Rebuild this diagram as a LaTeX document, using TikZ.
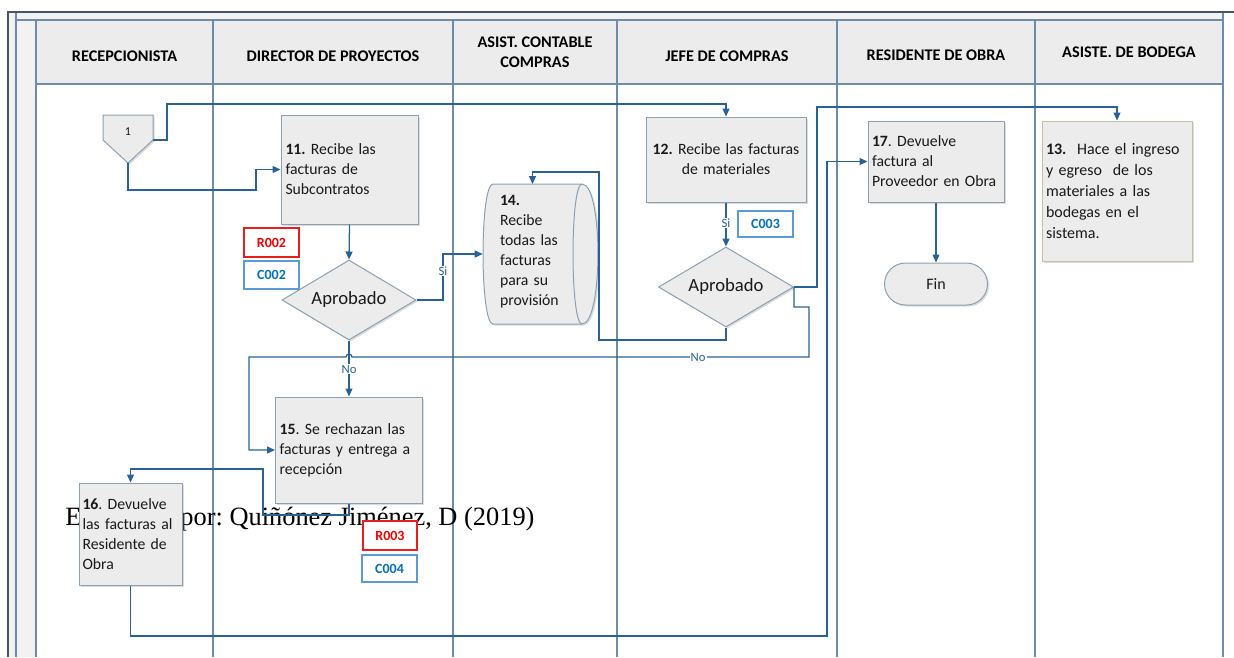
\documentclass[tikz,border=0pt]{standalone}
\usepackage{fontspec}
\setmainfont{Carlito}
\newfontfamily\capfont{Liberation Serif}
\usetikzlibrary{shapes.geometric,arrows.meta,shadows}
\frenchspacing

\definecolor{flowblue}{RGB}{40,98,150}
\definecolor{laneline}{RGB}{110,140,170}
\definecolor{framedark}{RGB}{68,84,106}
\definecolor{boxedge}{RGB}{140,160,180}
\definecolor{boxfill}{RGB}{236,236,236}
\definecolor{stripfill}{RGB}{242,242,242}
\definecolor{headfill}{RGB}{236,236,236}
\definecolor{tanedge}{RGB}{200,190,165}
\definecolor{textcol}{RGB}{25,25,25}
\definecolor{tagredline}{RGB}{235,30,30}
\definecolor{tagredtext}{RGB}{240,0,0}
\definecolor{tagblueline}{RGB}{91,155,213}
\definecolor{tagbluetext}{RGB}{0,112,192}

\newcommand{\boxfont}{\fontsize{11.8}{15}\selectfont}
\newcommand{\headfont}{\bfseries\fontsize{12.2}{15}\selectfont}

\tikzset{
  lane/.style={draw=laneline, line width=0.9pt},
  frameline/.style={draw=framedark, line width=1.6pt},
  shade/.style={drop shadow={shadow xshift=1.2pt, shadow yshift=-1.2pt, fill=black!40, opacity=0.35}},
  proc/.style={draw=boxedge, fill=boxfill, line width=0.75pt, inner sep=0pt,
    text=textcol, font=\boxfont, shade},
  headtxt/.style={font=\headfont, align=center, text=black},
  flow/.style={draw=flowblue, line width=0.95pt},
  arr/.style={flow, -{Triangle[length=6pt,width=5.25pt]}},
  lbl/.style={fill=white, inner sep=0.8pt, text=flowblue, font=\fontsize{9.5}{11}\selectfont},
  tagr/.style={draw=tagredline, line width=1.4pt, fill=white, text=tagredtext,
    font=\bfseries\fontsize{10.5}{12}\selectfont, inner sep=0pt},
  tagb/.style={draw=tagblueline, line width=1.4pt, fill=white, text=tagbluetext,
    font=\bfseries\fontsize{10.5}{12}\selectfont, inner sep=0pt},
}

\begin{document}
\begin{tikzpicture}[x=0.75pt, y=-0.75pt]
\useasboundingbox (0,0) rectangle (1234,657);

% ---- swimlane frame ----
\fill[stripfill] (8,12) rectangle (36,657);
\fill[stripfill] (8,12) rectangle (1223,20);
\fill[headfill] (36,20) rectangle (1223,84);
\draw[lane] (16,12) -- (16,657);
\draw[lane] (16,20) -- (1223,20);
\draw[lane] (36,84) -- (1223,84);
\foreach \x in {36,213,453,617,837,1035}
  \draw[lane] (\x,20) -- (\x,657);
\draw[lane] (1223,12) -- (1223,657);
\draw[frameline] (8,657) -- (8,12) -- (1234,12);

% ---- lane titles ----
\node[headtxt] (h1) at (124.5,56) {RECEPCIONISTA};
\node[headtxt] (h2) at (333,56) {DIRECTOR DE PROYECTOS};
\node[headtxt] (h3) at (535,52) {ASIST. CONTABLE\\COMPRAS};
\node[headtxt] (h4) at (727,56) {JEFE DE COMPRAS};
\node[headtxt] (h5) at (936,55) {RESIDENTE DE OBRA};
\node[headtxt] (h6) at (1129,52) {ASISTE. DE BODEGA};

% ---- source line ----
\node[anchor=base west, inner sep=0pt, text=black,
      font=\capfont\fontsize{19.8}{24}\selectfont] (cap) at (65,525)
  {Elaborado por: Quiñónez Jiménez, D (2019)};

% ---- off-page connector ----
\filldraw[draw=boxedge, fill=boxfill, line width=0.75pt, shade]
  (103,115) -- (153,115) -- (153,140) -- (128,163) -- (103,140) -- cycle;
\node[font=\fontsize{9}{10}\selectfont, text=textcol] (off1) at (128,132) {1};
\coordinate (off1e) at (153,140);
\coordinate (off1s) at (128,163);

% ---- activities ----
\node[proc, minimum width=102.75pt, minimum height=81.75pt, text width=96pt, align=left]
  (b11) at (349.5,169.5) {\textbf{11.} Recibe las\\facturas de\\Subcontratos};

\node[proc, minimum width=120pt, minimum height=63.75pt, text width=114pt, align=center]
  (b12) at (726,159.5) {\textbf{12.} Recibe las facturas\\de materiales};

% storage-style shape for step 14
\filldraw[draw=boxedge, fill=boxfill, line width=0.75pt, shade]
  (493,184) -- (582,184) .. controls (603.3,184) and (603.3,324) .. (582,324)
  -- (493,324) .. controls (479.7,324) and (479.7,184) .. (493,184) -- cycle;
\draw[draw=boxedge, line width=0.75pt]
  (582,184) .. controls (570,184) and (570,324) .. (582,324);
\node[inner sep=0pt, minimum width=74.25pt, minimum height=105pt, text width=48.75pt,
      align=left, font=\boxfont, text=textcol]
  (c14) at (532.5,252) {\textbf{14.}\\Recibe\\todas las\\facturas\\para su\\provisión};

\node[proc, minimum width=110.25pt, minimum height=79.5pt, text width=104pt, align=left]
  (b15) at (349,450) {\textbf{15}. Se rechazan las\\facturas y entrega a\\recepción};

\node[proc, minimum width=77.25pt, minimum height=76.5pt, text width=72pt, align=left]
  (b16) at (130.5,534) {\textbf{16}. Devuelve\\las facturas al\\Residente de\\Obra};

\node[proc, minimum width=102pt, minimum height=60.75pt, text width=96pt, align=left]
  (b17) at (936,161.5) {\textbf{17}. Devuelve\\factura al\\Proveedor en Obra};

\node[proc, draw=tanedge, minimum width=112.5pt, minimum height=105pt, text width=106.5pt,
      align=left, font=\fontsize{12}{15.75}\selectfont]
  (b13) at (1117,191) {\textbf{13.}\ \ Hace el ingreso\\y egreso\ \ de los\\materiales a las\\bodegas en el\\sistema.};

\node[proc, rounded corners=15.75pt, minimum width=77.25pt, minimum height=31.5pt,
      font=\fontsize{12}{14}\selectfont]
  (fin) at (936,284) {Fin};

% ---- decisions ----
\node[proc, diamond, aspect=1.675, minimum width=100.5pt, minimum height=60pt,
      font=\fontsize{14}{16}\selectfont] (d1) at (349,300) {Aprobado};
\node[proc, diamond, aspect=1.675, minimum width=101.25pt, minimum height=60pt,
      font=\fontsize{14}{16}\selectfont] (d2) at (726,287) {Aprobado};

% ---- document codes ----
\node[tagr, minimum width=41.25pt, minimum height=21.75pt] (r002) at (271.5,242.5) {R002};
\node[tagb, minimum width=41.25pt, minimum height=21pt] (c002) at (271.5,275) {C002};
\node[tagb, minimum width=41.25pt, minimum height=19.5pt] (c003) at (765.5,224) {C003};
\node[tagr, minimum width=40.5pt, minimum height=21.75pt] (r003) at (390,535.5) {R003};
\node[tagb, minimum width=41.25pt, minimum height=20.25pt] (c004) at (389.5,568.5) {C004};

% ---- connectors ----
\draw[arr] (off1e) -- (167,140) -- (167,104) -| (b12.north);
\draw[arr] (off1s) |- (256,190) |- (b11.west);
\draw[arr] (b11.south) -- (d1.north);
\draw[arr] (d1.east) -| (443,254) -- (c14.west |- 443,254);
\node[lbl] at (443,271) {Si};
\draw[arr] (b12.south) -- (d2.north);
\node[lbl] at (726,223) {Si};
\draw[arr] (d2.south) -- (726,340) -| (599,172) -| (c14.north |- 0,184);
\draw[arr] (d2.east) -| (817,107) -| (b13.north);
\draw[arr] (d2.east) |- (809,307) -- (809,357) -- (352,357)
  arc[start angle=0, end angle=-180, radius=3] -- (249,357) |- (b15.west);
\node[lbl] at (698,357) {No};
\draw[arr] (d1.south) -- (b15.north);
\node[lbl] at (349,369) {No};
\draw[arr] (b15.south) -- (349,515) -| (263,469) -| (b16.north);
\draw[arr] (b16.south) |- (827,636) |- (b17.west);
\draw[arr] (b17.south) -- (fin.north);
\end{tikzpicture}
\end{document}
